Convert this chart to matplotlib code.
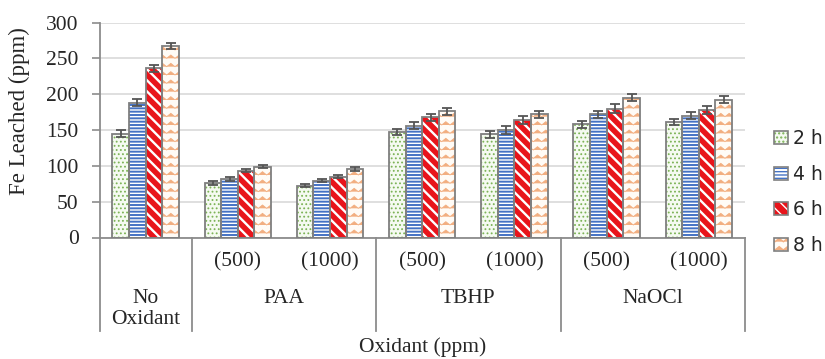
import numpy as np
import matplotlib
matplotlib.use("Agg")
import matplotlib.pyplot as plt
from matplotlib import hatch as mhatch
from matplotlib.path import Path
from matplotlib.patches import Patch
from matplotlib.legend_handler import HandlerTuple

# ---------------- data ----------------
categories = ["No Oxidant", "PAA (500)", "PAA (1000)", "TBHP (500)", "TBHP (1000)",
              "NaOCl (500)", "NaOCl (1000)"]
sub_labels = ["", "(500)", "(1000)", "(500)", "(1000)", "(500)", "(1000)"]
group_labels = ["PAA", "TBHP", "NaOCl"]
series_names = ["2 h", "4 h", "6 h", "8 h"]

v2h = [145, 76, 72, 147, 144, 158, 161]
v4h = [188, 82, 79, 156, 150, 172, 170]
v6h = [236, 93, 85, 168, 164, 180, 178]
v8h = [267, 99, 96, 176, 172, 195, 192]

e2h = [5, 2.5, 2, 4, 5, 5, 4.5]
e4h = [5, 2.5, 2, 5, 5, 5, 4.5]
e6h = [5, 2, 2.5, 5, 5, 6, 5]
e8h = [4, 2.5, 3, 5, 5, 5, 5]

yticks = [0, 50, 100, 150, 200, 250, 300]


# ---------------- custom zigzag hatch (replaces '*') ----------------
class Zigzag(mhatch.HatchPatternBase):
    def __init__(self, hatch, density):
        self.n = int(hatch.count('*') * density)
        self.num_vertices = self.n * (2 * self.n + 1) if self.n else 0

    def set_vertices_and_codes(self, vertices, codes):
        n = self.n
        k = np.arange(2 * n + 1)
        xs = k / (2.0 * n)
        amp = 0.4 / n
        idx = 0
        for j in range(n):
            y0 = j / n
            ys = y0 + (k % 2) * amp
            vertices[idx:idx + 2 * n + 1, 0] = xs
            vertices[idx:idx + 2 * n + 1, 1] = ys
            codes[idx] = Path.MOVETO
            codes[idx + 1:idx + 2 * n + 1] = Path.LINETO
            idx += 2 * n + 1


mhatch._hatch_types = [t for t in mhatch._hatch_types if t is not mhatch.Stars] + [Zigzag]

# ---------------- styles ----------------
serif = "Liberation Serif"
text_col = "#262626"
axis_col = "#8c8c8c"
edge_col = "#7f7f7f"
fs = 15.5

styles = [
    dict(face="#f5faf1", hatch="....", hcol="#7cb356", hlw=0.8),
    dict(face="#ffffff", hatch="-----", hcol="#4472c4", hlw=1.4),
    dict(face="#e8141b", hatch="\\\\\\", hcol="#ffffff", hlw=1.7),
    dict(face="#fffbf6", hatch="**", hcol="#f2ae80", hlw=0.6),
]

fig = plt.figure(figsize=(8.25, 3.59), dpi=100)
ax = fig.add_axes([99.5 / 825, 1 - 237.5 / 359, (745 - 99.5) / 825, 215 / 359])

x = np.arange(len(categories))
width = 0.18
offsets = [-1.5, -0.5, 0.5, 1.5]
values = [v2h, v4h, v6h, v8h]
errors = [e2h, e4h, e6h, e8h]

handles = []
for i, (vals, errs, st) in enumerate(zip(values, errors, styles)):
    xpos = x + offsets[i] * width
    with plt.rc_context({"hatch.linewidth": st["hlw"]}):
        ax.bar(xpos, vals, width, color=st["face"], hatch=st["hatch"],
               edgecolor=st["hcol"], linewidth=0, zorder=2)
        hp = Patch(facecolor=st["face"], hatch=st["hatch"], edgecolor=st["hcol"], linewidth=0)
    ax.bar(xpos, vals, width, color="none", edgecolor=edge_col, linewidth=1.3, zorder=3)
    op = Patch(facecolor="none", edgecolor=edge_col, linewidth=1.2)
    handles.append((hp, op))
    ax.errorbar(xpos, vals, yerr=errs, fmt="none", ecolor="#555555",
                elinewidth=1.3, capsize=3.5, capthick=1.3, zorder=4)

ax.set_xlim(-0.5, len(categories) - 0.5)
ax.set_ylim(0, 300)
ax.set_yticks(yticks)
ax.set_yticklabels([str(t) for t in yticks], fontfamily=serif, fontsize=fs, color=text_col)
ax.yaxis.grid(True, color="#d9d9d9", linewidth=1.2, zorder=0)
ax.set_axisbelow(True)
ax.tick_params(axis="y", direction="out", length=6, width=1.2, color=axis_col, pad=9)
ax.set_xticks([])
for s in ["top", "right"]:
    ax.spines[s].set_visible(False)
for s in ["left", "bottom"]:
    ax.spines[s].set_color(axis_col)
    ax.spines[s].set_linewidth(1.3)

# multi-level x axis
tr = ax.get_xaxis_transform()
for xi, lab in zip(x, sub_labels):
    if lab:
        ax.text(xi, -24 / 215, lab, transform=tr, ha="center", va="center",
                fontfamily=serif, fontsize=fs, color=text_col)
ax.text(0, -61 / 215, "No", transform=tr, ha="center", va="center",
        fontfamily=serif, fontsize=fs, color=text_col)
ax.text(0, -82 / 215, "Oxidant", transform=tr, ha="center", va="center",
        fontfamily=serif, fontsize=fs, color=text_col)
for gi, lab in enumerate(group_labels):
    ax.text(1.5 + 2 * gi, -61 / 215, lab, transform=tr, ha="center", va="center",
            fontfamily=serif, fontsize=fs, color=text_col)
for sx in [-0.5, 0.5, 2.5, 4.5, 6.5]:
    ax.plot([sx, sx], [0, -93.5 / 215], transform=tr, color=axis_col,
            linewidth=1.3, clip_on=False)

fig.text(0.5 * (99.5 + 745) / 825, 1 - 347 / 359, "Oxidant (ppm)", ha="center", va="center",
         fontfamily=serif, fontsize=fs, color=text_col)
fig.text(19 / 825, 1 - 111 / 359, "Fe Leached (ppm)", rotation=90, ha="center", va="center",
         fontfamily=serif, fontsize=16.5, color=text_col)

leg = fig.legend(handles, series_names, loc="center left",
                 bbox_to_anchor=(774 / 825, 1 - 192 / 359),
                 handler_map={tuple: HandlerTuple(ndivide=1)},
                 frameon=False, prop={"family": "DejaVu Sans", "size": 13.5},
                 handlelength=0.72, handleheight=0.72, handletextpad=0.3,
                 labelspacing=0.88, borderpad=0, borderaxespad=0)
for t in leg.get_texts():
    t.set_color(text_col)

fig.savefig("out.png", dpi=100)
